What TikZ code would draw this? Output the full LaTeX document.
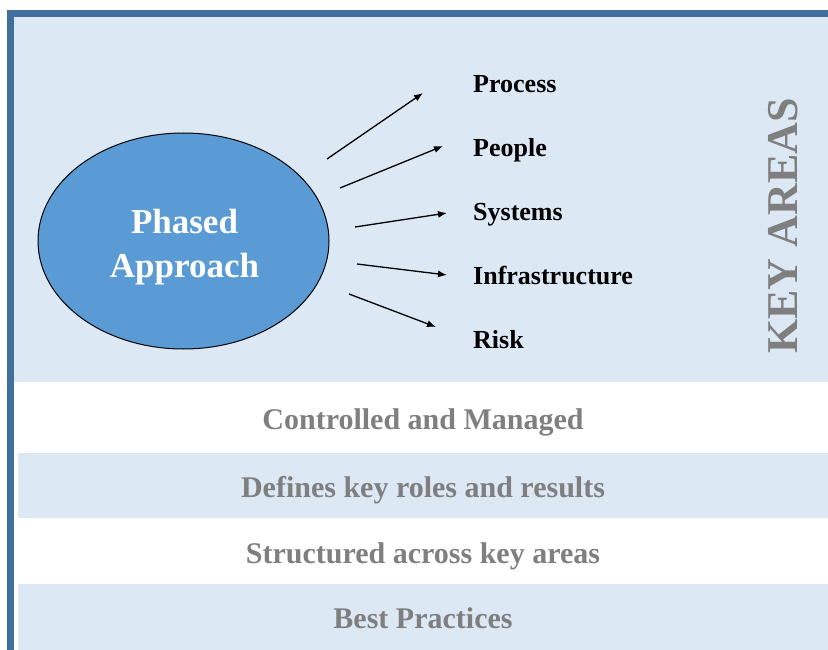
\documentclass[tikz,border=0pt]{standalone}
\usepackage{fontspec}
\setmainfont{Liberation Serif}
\usetikzlibrary{shapes.geometric,arrows.meta}
\definecolor{frameblue}{RGB}{65,112,156}
\definecolor{paleblue}{RGB}{220,232,244}
\definecolor{ovalblue}{RGB}{91,155,213}
\definecolor{softgray}{RGB}{127,127,127}

\begin{document}
\begin{tikzpicture}[x=1pt,y=1pt,
  area/.style={anchor=base west, inner sep=0pt, text=black,
               font=\fontsize{26}{30}\selectfont\bfseries},
  band/.style={anchor=base, inner sep=0pt, text=softgray,
               font=\fontsize{30}{34}\selectfont\bfseries},
  link/.style={-{Latex[length=9pt,width=7pt]}, line width=1.3pt, black}]
\useasboundingbox (0,0) rectangle (828,-650);
\fill[white] (0,0) rectangle (828,-650);

% frame and background panels
\fill[frameblue] (7,-10) rectangle (828,-17);
\fill[frameblue] (7,-10) rectangle (14,-650);
\fill[paleblue] (14,-17) rectangle (828,-382);
\fill[paleblue] (18,-453) rectangle (828,-518);
\fill[paleblue] (18,-584) rectangle (828,-650);

% central oval
\node[ellipse, draw=black, line width=1pt, fill=ovalblue,
      minimum width=291pt, minimum height=216pt, inner sep=0pt] (oval) at (183.5,-241) {};
\node[align=center, text=white, inner sep=0pt,
      font=\fontsize{35}{44}\selectfont\bfseries] (ovaltext) at (184.5,-247) {Phased\\Approach};

% key areas
\node[area] (process) at (473,-93)  {Process};
\node[area] (people)  at (473,-157) {People};
\node[area] (systems) at (473,-221) {Systems};
\node[area] (infra)   at (473,-284) {Infrastructure};
\node[area] (risk)    at (473,-348) {Risk};

% arrow ends
\coordinate (s1) at (327,-159); \coordinate (e1) at (423,-93);
\coordinate (s2) at (340,-188); \coordinate (e2) at (443,-146);
\coordinate (s3) at (355,-227); \coordinate (e3) at (447,-213);
\coordinate (s4) at (357,-264); \coordinate (e4) at (447,-275);
\coordinate (s5) at (349,-294); \coordinate (e5) at (436,-327);
\draw[link] (s1) -- (e1);
\draw[link] (s2) -- (e2);
\draw[link] (s3) -- (e3);
\draw[link] (s4) -- (e4);
\draw[link] (s5) -- (e5);

% vertical title
\node[rotate=90, anchor=base, inner sep=0pt, text=softgray,
      font=\fontsize{44}{48}\selectfont\bfseries] (keyareas) at (797,-226) {KEY AREAS};

% bands
\node[band] (b1) at (423,-429) {Controlled and Managed};
\node[band] (b2) at (423,-497) {Defines key roles and results};
\node[band] (b3) at (423,-563) {Structured across key areas};
\node[band] (b4) at (423,-628) {Best Practices};
\end{tikzpicture}
\end{document}
